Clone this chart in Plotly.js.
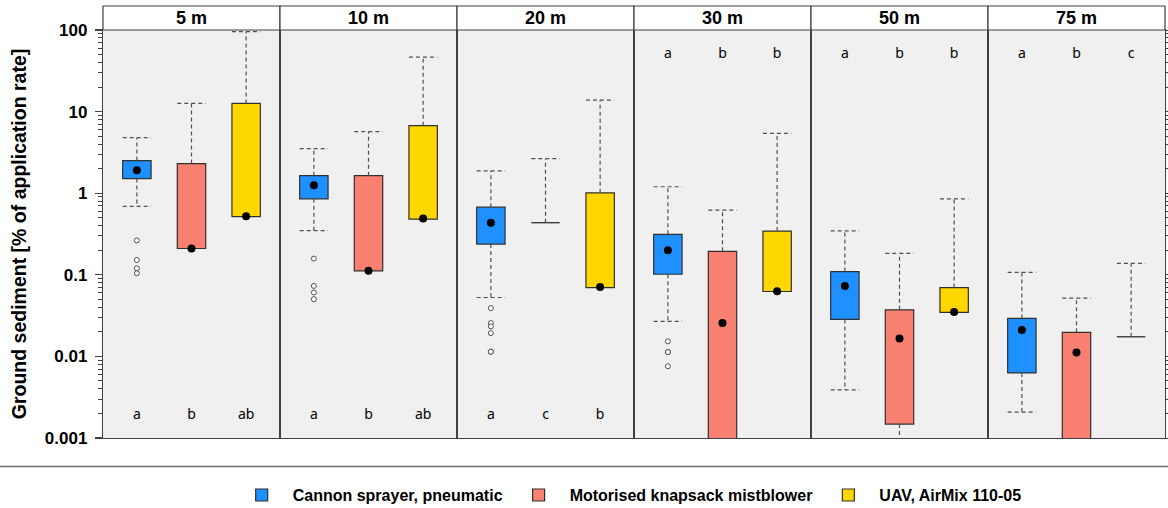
<!DOCTYPE html>
<html>
<head>
<meta charset="utf-8">
<script src="https://cdn.plot.ly/plotly-3.0.1.min.js"></script>
<style>
  html, body { margin: 0; padding: 0; background: #ffffff; }
  #chart { width: 1168px; height: 508px; }
</style>
</head>
<body>
<div id="chart"></div>
<script>
// Ground sediment by distance from the treated row, one panel per distance
const distances = ['5 m', '10 m', '20 m', '30 m', '50 m', '75 m'];
const devices = ['Cannon sprayer, pneumatic', 'Motorised knapsack mistblower', 'UAV, AirMix 110-05'];

// Cannon sprayer, pneumatic
const cannonUpper  = [4.79, 3.52, 1.88, 1.20, 0.345, 0.107];
const cannonQ3     = [2.51, 1.64, 0.675, 0.313, 0.1096, 0.0292];
const cannonMedian = [1.91, 1.25, 0.435, 0.1995, 0.0731, 0.021];
const cannonQ1     = [1.51, 0.853, 0.238, 0.1016, 0.0284, 0.00627];
const cannonLower  = [0.688, 0.347, 0.0527, 0.0268, 0.00388, 0.00207];
const cannonOutliers = [
  [0.264, 0.152, 0.120, 0.1045],
  [0.158, 0.0731, 0.0607, 0.0503],
  [0.039, 0.0256, 0.0233, 0.0193, 0.0114, 0.0114],
  [0.0153, 0.0113, 0.0113, 0.00757],
  [],
  []
];

// Motorised knapsack mistblower
const knapsackUpper  = [12.6, 5.67, 2.65, 0.62, 0.183, 0.0517];
const knapsackQ3     = [2.31, 1.64, 0.435, 0.194, 0.0372, 0.0197];
const knapsackMedian = [0.21, 0.112, null, 0.0256, 0.0166, 0.0112];
const knapsackQ1     = [0.21, 0.112, 0.435, 0.0005, 0.00148, 0.0005];
const knapsackLower  = [0.21, 0.112, 0.435, 0.0005, 0.0006, 0.0005];
const knapsackOutliers = [[], [], [], [], [], []];

// UAV, AirMix 110-05
const uavUpper  = [95.3, 46.4, 13.8, 5.41, 0.853, 0.138];
const uavQ3     = [12.6, 6.72, 1.01, 0.343, 0.0698, 0.0174];
const uavMedian = [0.52, 0.49, 0.071, 0.063, 0.035, null];
const uavQ1     = [0.515, 0.481, 0.0698, 0.0624, 0.0346, 0.0174];
const uavLower  = [0.515, 0.481, 0.0698, 0.0624, 0.0346, 0.0174];
const uavOutliers = [[], [], [], [], [], []];

// Significance letters per distance and whether they sit low or high in the panel
const letters = [
  ['a', 'b', 'ab'],
  ['a', 'b', 'ab'],
  ['a', 'c', 'b'],
  ['a', 'b', 'b'],
  ['a', 'b', 'b'],
  ['a', 'b', 'c']
];
const letterRow = ['low', 'low', 'low', 'high', 'high', 'high'];

const tickVals = [0.001, 0.01, 0.1, 1, 10, 100];
const tickText = ['0.001', '0.01', '0.1', '1', '10', '100'];

// ---- styling ----
const FONT = 'Liberation Sans, Arial, sans-serif';
const LETTER_FONT = 'Noto Sans, Open Sans, sans-serif';
const fills = ['#1e90ff', '#fa8072', '#ffd700'];
const BORDER = '#404040';
const BOX_W = 0.52;
const LETTER_Y = { low: 0.0019, high: 50 };

const series = [
  { upper: cannonUpper, q3: cannonQ3, median: cannonMedian, q1: cannonQ1, lower: cannonLower, out: cannonOutliers },
  { upper: knapsackUpper, q3: knapsackQ3, median: knapsackMedian, q1: knapsackQ1, lower: knapsackLower, out: knapsackOutliers },
  { upper: uavUpper, q3: uavQ3, median: uavMedian, q1: uavQ1, lower: uavLower, out: uavOutliers }
];

// minor ticks at 2..9 of every decade
const minorVals = [];
for (let e = -3; e < 2; e++) {
  for (let m = 2; m <= 9; m++) minorVals.push(m * Math.pow(10, e));
}

const traces = [];
const layout = {
  width: 1168,
  height: 508,
  margin: { l: 103, r: 3, t: 30, b: 70, autoexpand: false },
  paper_bgcolor: '#ffffff',
  plot_bgcolor: '#f0f0f0',
  barmode: 'overlay',
  showlegend: true,
  font: { family: FONT, color: '#000000' },
  legend: {
    orientation: 'h',
    x: 0.495, xanchor: 'center',
    y: -0.14, yanchor: 'middle',
    font: { family: FONT, size: 16, weight: 'bold', color: '#000000' },
    itemwidth: 52,
    traceorder: 'normal'
  },
  shapes: [],
  annotations: []
};

const nP = distances.length;
for (let p = 0; p < nP; p++) {
  const sfx = p === 0 ? '' : String(p + 1);
  const xa = 'x' + sfx, ya = 'y' + sfx;

  layout['xaxis' + sfx] = {
    domain: [p / nP, (p + 1) / nP],
    anchor: ya,
    range: [0.38, 3.62],
    showticklabels: false, ticks: '', showgrid: false, zeroline: false,
    showline: true, mirror: true, linecolor: BORDER, linewidth: 1.2,
    fixedrange: true
  };

  const yax = {
    type: 'log',
    range: [-3, 2],
    anchor: xa,
    showgrid: false, zeroline: false,
    showline: true, mirror: true, linecolor: BORDER, linewidth: 1.2,
    tickvals: tickVals,
    fixedrange: true
  };
  if (p === 0) {
    Object.assign(yax, {
      ticks: 'outside', ticklen: 7, tickcolor: BORDER, tickwidth: 1.2,
      ticktext: tickText,
      ticklabelstandoff: 4,
      tickfont: { family: FONT, size: 17, weight: 'bold', color: '#000000' },
      minor: { tickvals: minorVals, ticks: 'outside', ticklen: 4, tickcolor: BORDER, tickwidth: 1, showgrid: false },
      title: {
        text: 'Ground sediment [% of application rate]',
        font: { family: FONT, size: 19.5, weight: 'bold', color: '#000000' },
        standoff: 13
      }
    });
  } else {
    yax.matches = 'y';
    yax.showticklabels = false;
    if (p === nP - 1) {
      Object.assign(yax, {
        side: 'right',
        ticks: 'outside', ticklen: 5, tickcolor: BORDER, tickwidth: 1,
        minor: { tickvals: minorVals, ticks: 'outside', ticklen: 4, tickcolor: BORDER, tickwidth: 1, showgrid: false }
      });
    } else {
      yax.ticks = '';
    }
  }
  layout['yaxis' + sfx] = yax;

  // strip header
  layout.shapes.push({
    type: 'rect', xref: xa + ' domain', yref: 'paper',
    x0: 0, x1: 1, y0: 1, y1: 1 + 24 / 408,
    fillcolor: '#ffffff', line: { color: BORDER, width: 1.2 }, layer: 'above'
  });
  layout.annotations.push({
    xref: xa + ' domain', yref: 'paper', x: 0.5, y: 1 + 12 / 408,
    xanchor: 'center', yanchor: 'middle', showarrow: false,
    text: distances[p],
    font: { family: FONT, size: 18, weight: 'bold', color: '#000000' }
  });

  const whiskX = [], whiskY = [];
  const medX = [], medY = [];
  const outX = [], outY = [];

  for (let d = 0; d < devices.length; d++) {
    const s = series[d];
    const pos = d + 1;
    const lo = pos - BOX_W / 2, hi = pos + BOX_W / 2;

    if (s.q1[p] < s.q3[p]) {
      traces.push({
        type: 'bar', xaxis: xa, yaxis: ya,
        x: [pos], base: [s.q1[p]], y: [s.q3[p] - s.q1[p]], width: [BOX_W],
        marker: { color: fills[d], line: { color: '#303030', width: 1.2 } },
        name: devices[d], legendgroup: devices[d], showlegend: p === 0,
        hoverinfo: 'skip'
      });
    } else {
      // collapsed box: only its edge remains
      traces.push({
        type: 'scatter', mode: 'lines', xaxis: xa, yaxis: ya,
        x: [lo, hi], y: [s.q3[p], s.q3[p]],
        line: { color: '#303030', width: 1.3 },
        showlegend: false, hoverinfo: 'skip'
      });
    }

    // upper whisker and cap
    if (s.upper[p] > s.q3[p]) {
      whiskX.push(pos, pos, null, lo, hi, null);
      whiskY.push(s.q3[p], s.upper[p], null, s.upper[p], s.upper[p], null);
    }
    // lower whisker and cap
    if (s.lower[p] < s.q1[p]) {
      whiskX.push(pos, pos, null, lo, hi, null);
      whiskY.push(s.q1[p], s.lower[p], null, s.lower[p], s.lower[p], null);
    }

    if (s.median[p] !== null) { medX.push(pos); medY.push(s.median[p]); }
    s.out[p].forEach(v => { outX.push(pos); outY.push(v); });
  }

  traces.push({
    type: 'scatter', mode: 'lines', xaxis: xa, yaxis: ya,
    x: whiskX, y: whiskY, connectgaps: false,
    line: { color: '#505050', width: 1.2, dash: '4px,3px' },
    showlegend: false, hoverinfo: 'skip'
  });
  traces.push({
    type: 'scatter', mode: 'markers', xaxis: xa, yaxis: ya,
    x: outX, y: outY,
    marker: { symbol: 'circle', size: 5, color: '#ffffff', line: { color: '#505050', width: 1 } },
    showlegend: false, hoverinfo: 'skip'
  });
  traces.push({
    type: 'scatter', mode: 'markers', xaxis: xa, yaxis: ya,
    x: medX, y: medY,
    marker: { symbol: 'circle', size: 8, color: '#000000' },
    showlegend: false, hoverinfo: 'skip'
  });
  traces.push({
    type: 'scatter', mode: 'text', xaxis: xa, yaxis: ya,
    x: [1, 2, 3], y: [1, 2, 3].map(() => LETTER_Y[letterRow[p]]),
    text: letters[p], textposition: 'middle center',
    textfont: { family: LETTER_FONT, size: 14, color: '#000000' },
    showlegend: false, hoverinfo: 'skip', cliponaxis: false
  });
}

// separator above the legend
layout.shapes.push({
  type: 'line', xref: 'paper', yref: 'paper',
  x0: -103 / 1062, x1: 1065 / 1062, y0: -28.5 / 408, y1: -28.5 / 408,
  line: { color: '#707070', width: 1.5 }
});

Plotly.newPlot('chart', traces, layout, { staticPlot: true, displayModeBar: false });
</script>
</body>
</html>
